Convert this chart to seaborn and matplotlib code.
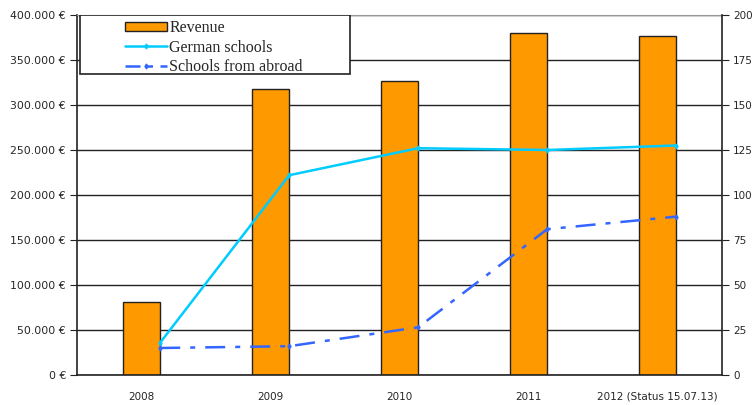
"""
Revenue vs. participating schools, 2008-2012 (bar + twin line chart).
"""

import numpy as np
import pandas as pd
import matplotlib
matplotlib.use("Agg")
import matplotlib.pyplot as plt
import matplotlib.ticker as mticker
from matplotlib.patches import Rectangle
from matplotlib.lines import Line2D
from matplotlib.patches import Patch
import seaborn as sns

# data
years = ["2008", "2009", "2010", "2011", "2012 (Status 15.07.13)"]
revenue = [81500, 318000, 327000, 380500, 377000]
german_schools = [18, 111, 126, 125, 127.5]
schools_abroad = [15, 16, 26.5, 81, 88]

BAR_COLOR = "#FF9900"
GERMAN_COLOR = "#00CCFF"
ABROAD_COLOR = "#3366FF"
BAR_WIDTH = 0.29


def euro_fmt(v, pos):
    if v == 0:
        return "0 €"
    return f"{int(v):,} €".replace(",", ".")


def main():
    sns.set_style("white")
    plt.rcParams["font.family"] = ["DejaVu Sans"]

    fig = plt.figure(figsize=(7.54, 4.05), dpi=100)
    ax = fig.add_axes([77 / 754, 1 - 375 / 405, 645 / 754, 360 / 405])

    df = pd.DataFrame({"year": years, "revenue": revenue})
    sns.barplot(data=df, x="year", y="revenue", color=BAR_COLOR, width=BAR_WIDTH,
                saturation=1, edgecolor="#222222", linewidth=1, ax=ax, zorder=2)

    ax.set_xlim(-0.5, len(years) - 0.5)
    ax.set_ylim(0, 400000)
    ax.yaxis.set_major_locator(mticker.MultipleLocator(50000))
    ax.yaxis.set_major_formatter(mticker.FuncFormatter(euro_fmt))
    ax.set_xlabel("")
    ax.set_ylabel("")

    # horizontal grid behind bars
    ax.grid(axis="y", color="#222222", linewidth=1)
    ax.grid(axis="x", visible=False)
    ax.set_axisbelow(True)

    # x ticks sit between categories, labels centred under bars
    ax.set_xticks(np.arange(len(years)))
    ax.set_xticklabels(years, fontsize=7.5)
    ax.tick_params(axis="x", length=0, pad=12)
    ax.set_xticks(np.arange(len(years) + 1) - 0.5, minor=True)
    ax.tick_params(axis="x", which="minor", length=5, direction="out", color="#222222")
    ax.tick_params(axis="y", length=5, direction="out", color="#222222", labelsize=7.8, pad=3)

    for side in ["left", "bottom"]:
        ax.spines[side].set_color("#222222")
        ax.spines[side].set_linewidth(1.2)
    ax.spines["top"].set_color("#999999")
    ax.spines["right"].set_visible(False)

    # school counts on the secondary axis, points at the bar's right edge
    ax2 = ax.twinx()
    xpos = np.arange(len(years)) + BAR_WIDTH / 2
    ax2.plot(xpos, german_schools, color=GERMAN_COLOR, linewidth=1.8,
             marker="d", markersize=2.5, zorder=3)
    ax2.plot(xpos, schools_abroad, color=ABROAD_COLOR, linewidth=1.8,
             linestyle=(0, (8, 4, 2, 4)), marker="d", markersize=2.5, zorder=3)
    ax2.set_ylim(0, 200)
    ax2.yaxis.set_major_locator(mticker.MultipleLocator(25))
    ax2.tick_params(axis="y", length=5, direction="out", color="#222222", labelsize=7.5, pad=3)
    ax2.grid(False)
    ax2.spines["right"].set_color("#222222")
    ax2.spines["right"].set_linewidth(1.2)
    for side in ["left", "bottom", "top"]:
        ax2.spines[side].set_visible(False)

    # legend in a plain white box
    box = Rectangle((3 / 645, 1 - 59 / 360), 270 / 645, 59 / 360, transform=ax2.transAxes,
                    facecolor="white", edgecolor="#222222", linewidth=1.2, zorder=10)
    ax2.add_patch(box)
    handles = [
        Patch(facecolor=BAR_COLOR, edgecolor="#222222", linewidth=1),
        Line2D([], [], color=GERMAN_COLOR, linewidth=1.8, marker="d", markersize=2.5),
        Line2D([], [], color=ABROAD_COLOR, linewidth=1.8, linestyle=(0, (6, 3, 2, 3)),
               marker="d", markersize=2.5),
    ]
    leg = ax2.legend(handles, ["Revenue", "German schools", "Schools from abroad"],
                     loc="upper left", bbox_to_anchor=(37 / 645, 1.017), frameon=False,
                     prop={"family": "Liberation Serif", "size": 11.5},
                     handlelength=2.6, handleheight=0.55, handletextpad=0.15,
                     labelspacing=0.22, borderpad=0.2)
    leg.set_zorder(11)

    fig.savefig("out.png", dpi=100)
    plt.close(fig)


if __name__ == "__main__":
    main()
